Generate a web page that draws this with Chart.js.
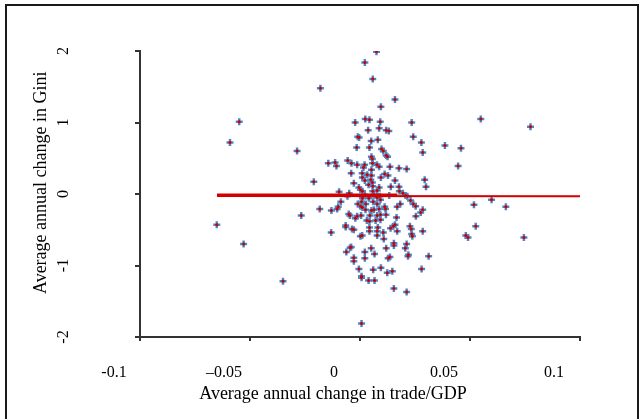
<!DOCTYPE html>
<html>
<head>
<meta charset="utf-8">
<title>Trade and inequality</title>
<script src="https://cdn.jsdelivr.net/npm/chart.js@4.4.1/dist/chart.umd.min.js"></script>
<style>
  html, body { margin: 0; padding: 0; background: #fff; overflow: hidden; }
  #wrap { position: relative; width: 639px; height: 419px; }
  #frame { position: absolute; left: 5px; top: 4px; width: 630px; height: 500px; border: 2px solid #1a1a1a; pointer-events: none; }
  canvas { position: absolute; left: 0; top: 0; }
</style>
</head>
<body>
<div id="wrap">
  <canvas id="chart" width="639" height="419"></canvas>
  <div id="frame"></div>
</div>
<script>
// average annual change in trade/GDP (x) and in Gini (y)
const tradeChange = [
  0.0075, 0.0022, 0.0058, -0.018, 0.0159, 0.0095, -0.0022, 0.0024, 0.0043, 0.0092,
  0.0235, 0.0037, 0.0087, 0.0119, 0.0131, -0.0010, -0.0004, 0.0051, 0.0081, 0.0242,
  0.0279, 0.0386, -0.0015, 0.0043, 0.0098, 0.0106, 0.0285, 0.0052, 0.0056, 0.0119,
  0.0125, -0.0144, -0.0113, -0.0107, -0.0056, -0.0039, -0.0013, 0.0021, 0.0016, 0.0057,
  0.0077, 0.0087, 0.0136, 0.0177, 0.0212, 0.0052, -0.0040, 0.0010, 0.0033, 0.0052,
  0.0112, 0.0127, 0.0095, 0.0011, 0.0022, 0.0049, 0.0056, 0.0159, 0.0294, -0.0210,
  -0.0028, 0.0039, 0.0058, 0.0087, 0.0140, 0.0177, 0.0300, -0.0005, 0.0002, 0.0078,
  -0.0095, -0.0049, 0.0011, 0.0022, 0.0058, 0.0063, 0.0179, 0.0195, 0.0207, -0.0057,
  0.0090, 0.0133, 0.0215, 0.0011, 0.0007, 0.0040, 0.0078, 0.0093, 0.0230, -0.0087,
  -0.0010, 0.0002, 0.0026, 0.0060, 0.0078, 0.0112, 0.0116, 0.0169, 0.0183, 0.0242,
  0.0253, -0.0099, -0.0104, -0.0183, -0.0130, 0.0011, 0.0025, 0.0052, 0.0063, 0.0087,
  0.0285, 0.0276, -0.0051, -0.0046, -0.0013, 0.0005, 0.0045, 0.0078, 0.0093, 0.0118,
  0.0254, -0.0267, -0.0021, 0.0031, 0.0043, 0.0071, 0.0093, 0.0166, -0.0065, -0.0065,
  -0.0036, -0.0028, 0.0043, 0.0043, 0.0081, 0.0078, 0.0139, 0.0151, 0.0159, 0.0169,
  0.0227, 0.0233, 0.0285, -0.0131, 0.0106, 0.0010, 0.0002, 0.0078, 0.0235, 0.0238,
  0.0108, 0.0154, 0.0154, 0.0212, -0.0040, -0.0045, 0.0051, 0.0119, 0.0206, -0.0062,
  0.0022, 0.0066, 0.0220, 0.0218, 0.0136, 0.0128, 0.0312, -0.0028, -0.0028, 0.0022,
  -0.0005, 0.0060, 0.0095, 0.0124, 0.0147, 0.0280, 0.0007, 0.0007, 0.0039, 0.0066,
  0.0154, 0.0212, 0.0007, -0.0549, -0.0591, -0.0286, -0.0651, -0.0529, -0.0350, 0.0549,
  0.0775, 0.0459, 0.0446, 0.0518, 0.0598, 0.0663, 0.0526, 0.0481, 0.0491, 0.0745
];
const giniChange = [
  1.99, 1.84, 1.61, 1.48, 1.32, 1.22, 1.00, 1.05, 1.04, 1.01,
  1.00, 0.89, 0.92, 0.89, 0.88, 0.80, 0.79, 0.74, 0.76, 0.80,
  0.72, 0.68, 0.65, 0.65, 0.63, 0.60, 0.58, 0.52, 0.49, 0.54,
  0.52, 0.43, 0.44, 0.39, 0.47, 0.43, 0.41, 0.41, 0.37, 0.43,
  0.41, 0.38, 0.38, 0.36, 0.35, 0.34, 0.29, 0.29, 0.27, 0.26,
  0.28, 0.26, 0.23, 0.23, 0.19, 0.20, 0.16, 0.19, 0.20, 0.17,
  0.15, 0.13, 0.11, 0.09, 0.10, 0.10, 0.10, 0.09, 0.06, 0.05,
  0.03, 0.01, 0.04, -0.01, 0.04, -0.01, 0.04, 0.01, -0.02, -0.03,
  -0.03, -0.02, -0.03, -0.06, -0.11, -0.06, -0.05, -0.08, -0.09, -0.11,
  -0.14, -0.17, -0.14, -0.11, -0.14, -0.18, -0.21, -0.18, -0.14, -0.14,
  -0.17, -0.18, -0.21, -0.21, -0.23, -0.19, -0.22, -0.23, -0.22, -0.21,
  -0.22, -0.26, -0.28, -0.30, -0.31, -0.30, -0.30, -0.30, -0.29, -0.29,
  -0.31, -0.30, -0.34, -0.37, -0.38, -0.37, -0.36, -0.33, -0.44, -0.46,
  -0.49, -0.50, -0.47, -0.52, -0.47, -0.52, -0.48, -0.45, -0.43, -0.52,
  -0.45, -0.49, -0.52, -0.54, -0.54, -0.58, -0.59, -0.58, -0.56, -0.59,
  -0.63, -0.69, -0.72, -0.70, -0.74, -0.75, -0.76, -0.76, -0.76, -0.81,
  -0.81, -0.84, -0.85, -0.87, -0.88, -0.90, -0.87, -0.89, -0.94, -0.90,
  -1.05, -1.06, -1.03, -1.10, -1.08, -1.05, -1.15, -1.17, -1.21, -1.21,
  -1.32, -1.37, -1.81, 1.01, 0.72, 0.60, -0.43, -0.70, -1.22, 1.05,
  0.94, 0.64, 0.39, -0.15, -0.08, -0.18, -0.45, -0.58, -0.61, -0.61
];

// fitted line (drawn twice in the original: a heavy part and a thin one)
const fitHeavyX = [-0.065, 0.017];
const fitHeavyY = [-0.017, -0.017];
const fitThinX = [-0.065, 0.1];
const fitThinY = [-0.028, -0.03];

const xTicks = [-0.1, -0.05, 0, 0.05, 0.1];
const xTickLabels = ['-0.1', '\u20130.05', '0', '0.05', '0.1'];
const yTicks = [-2, -1, 0, 1, 2];
const yTickLabels = ['-2', '-1', '0', '1', '2'];

const serif = "'Liberation Serif', 'Times New Roman', serif";

const points = tradeChange.map((x, i) => ({ x: x, y: giniChange[i] }));
const toXY = (xs, ys) => xs.map((x, i) => ({ x: x, y: ys[i] }));

new Chart(document.getElementById('chart'), {
    type: 'scatter',
    data: {
        datasets: [
            {
                data: toXY(fitHeavyX, fitHeavyY),
                showLine: true,
                borderColor: '#d40000',
                borderWidth: 3.5,
                pointRadius: 0,
                order: 0
            },
            {
                data: toXY(fitThinX, fitThinY),
                showLine: true,
                borderColor: '#d40000',
                borderWidth: 2,
                pointRadius: 0,
                order: 0
            },
            {
                // red centre of each marker
                data: points,
                pointStyle: 'cross',
                pointRadius: 1.5,
                borderWidth: 1.5,
                borderColor: '#c80000',
                order: 1
            },
            {
                data: points,
                pointStyle: 'cross',
                pointRadius: 3.5,
                borderWidth: 2.5,
                borderColor: '#5585c0',
                order: 2
            }
        ]
    },
    options: {
        responsive: false,
        animation: false,
        events: [],
        layout: { padding: { top: 51, right: 59, left: 0, bottom: 0 } },
        plugins: {
            legend: { display: false },
            tooltip: { enabled: false }
        },
        scales: {
            x: {
                type: 'linear',
                min: -0.1,
                max: 0.1,
                afterBuildTicks: s => { s.ticks = xTicks.map(v => ({ value: v })); },
                afterFit: s => { s.height = 82; },
                ticks: {
                    callback: (v, i) => xTickLabels[i],
                    font: { family: serif, size: 16 },
                    color: '#000',
                    labelOffset: -26,
                    padding: 22,
                    maxRotation: 0,
                    autoSkip: false
                },
                grid: { drawOnChartArea: false, tickLength: 4, color: '#333', lineWidth: 2 },
                border: { color: '#333', width: 2 },
                title: {
                    display: true,
                    // trailing spaces pull the centred title left, as in the source
                    text: 'Average annual change in trade/GDP            ',
                    font: { family: serif, size: 18 },
                    color: '#000',
                    padding: { top: 0, bottom: 14 }
                }
            },
            y: {
                min: -2,
                max: 2,
                afterBuildTicks: s => { s.ticks = yTicks.map(v => ({ value: v })); },
                afterFit: s => {
                    s.width = 140;
                    // the big label padding would otherwise be added above and below the axis
                    s.paddingTop = 10;
                    s.paddingBottom = 10;
                },
                ticks: {
                    callback: (v, i) => yTickLabels[i],
                    font: { family: serif, size: 16 },
                    color: '#000',
                    minRotation: 90,
                    maxRotation: 90,
                    crossAlign: 'center',
                    padding: 65
                },
                grid: { drawOnChartArea: false, tickLength: 5, color: '#333', lineWidth: 2 },
                border: { color: '#333', width: 2 },
                title: {
                    display: true,
                    text: '     Average annual change in Gini',
                    font: { family: serif, size: 18 },
                    color: '#000',
                    padding: { top: 30, bottom: 0 }
                }
            }
        }
    }
});
</script>
</body>
</html>
